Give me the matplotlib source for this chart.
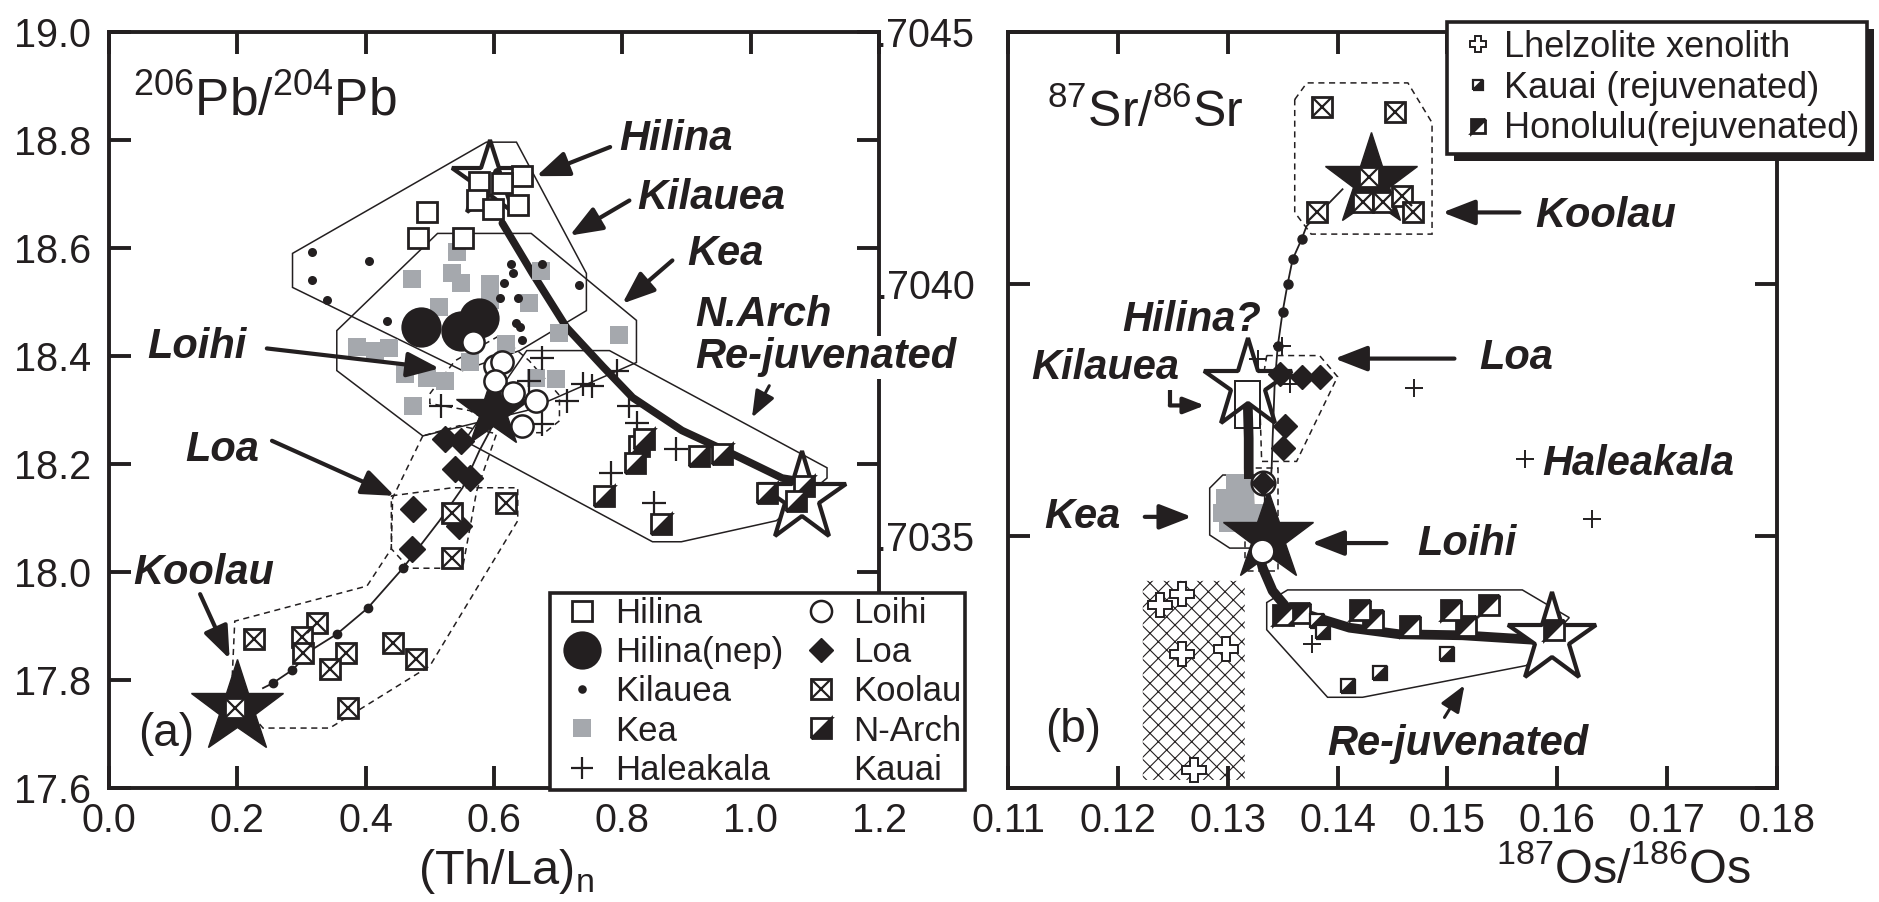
import matplotlib
matplotlib.use("Agg")
import matplotlib.pyplot as plt
import numpy as np
from matplotlib.lines import Line2D
from matplotlib.markers import MarkerStyle
from matplotlib.patches import Polygon, FancyBboxPatch, Rectangle
from matplotlib.transforms import Affine2D

plt.rcParams['font.family'] = ['Liberation Sans', 'DejaVu Sans']
plt.rcParams['mathtext.fontset'] = 'custom'
plt.rcParams['mathtext.rm'] = 'Liberation Sans'
plt.rcParams['hatch.linewidth'] = 0.8

# ---------------- panel (a): (Th/La)n vs 206Pb/204Pb ----------------
hilina_x = [0.643, 0.612, 0.577, 0.573, 0.598, 0.637, 0.495, 0.482, 0.551]
hilina_y = [18.733, 18.720, 18.722, 18.688, 18.673, 18.679, 18.666, 18.618, 18.618]

nep_x = [0.487, 0.549, 0.577]
nep_y = [18.453, 18.447, 18.471]

kil_x = [0.316, 0.405, 0.316, 0.339, 0.434, 0.627, 0.630, 0.616, 0.610, 0.637, 0.635, 0.641, 0.644, 0.675, 0.733, 0.605]
kil_y = [18.592, 18.575, 18.540, 18.503, 18.464, 18.571, 18.553, 18.536, 18.507, 18.508, 18.462, 18.453, 18.429, 18.571, 18.532, 18.740]

kea_x = [0.542, 0.472, 0.535, 0.549, 0.593, 0.593, 0.515, 0.655, 0.674, 0.386, 0.414, 0.437,
         0.461, 0.495, 0.523, 0.473, 0.562, 0.619, 0.697, 0.702, 0.795, 0.666]
kea_y = [18.592, 18.542, 18.553, 18.536, 18.534, 18.503, 18.490, 18.499, 18.558, 18.416, 18.410, 18.414,
         18.367, 18.360, 18.354, 18.308, 18.388, 18.423, 18.358, 18.442, 18.438, 18.360]

hale_x = [0.675, 0.655, 0.518, 0.738, 0.753, 0.714, 0.675, 0.792, 0.811, 0.823, 0.884, 0.783, 0.850]
hale_y = [18.397, 18.354, 18.308, 18.349, 18.345, 18.317, 18.275, 18.373, 18.308, 18.276, 18.228, 18.184, 18.128]

loihi_x = [0.567, 0.601, 0.613, 0.601, 0.629, 0.665, 0.644]
loihi_y = [18.425, 18.382, 18.388, 18.354, 18.332, 18.317, 18.271]

loa_x = [0.523, 0.549, 0.539, 0.562, 0.473, 0.472, 0.546]
loa_y = [18.247, 18.243, 18.191, 18.174, 18.117, 18.043, 18.085]

koolau_x = [0.226, 0.324, 0.300, 0.302, 0.370, 0.344, 0.442, 0.479, 0.372, 0.535, 0.535, 0.619, 0.196]
koolau_y = [17.876, 17.905, 17.879, 17.850, 17.850, 17.820, 17.868, 17.839, 17.748, 18.109, 18.026, 18.128, 17.748]

narch_x = [0.826, 0.834, 0.819, 0.920, 0.956, 1.026, 1.083, 1.071, 0.772, 0.861]
narch_y = [18.234, 18.247, 18.202, 18.215, 18.219, 18.147, 18.160, 18.132, 18.141, 18.089]

# end-member stars
a_black_star_x = [0.199, 0.598]
a_black_star_y = [17.748, 18.299]
a_black_star_ms = [70, 56]
a_open_star_x = [0.593, 1.080]
a_open_star_y = [18.725, 18.137]
a_open_star_ms = [57, 67]

# mixing curves
mixA_x = [0.613, 0.660, 0.713, 0.770, 0.816, 0.893, 0.971, 1.049, 1.075]
mixA_y = [18.646, 18.553, 18.453, 18.380, 18.323, 18.262, 18.219, 18.174, 18.169]
mixB_x = [0.240, 0.255, 0.285, 0.320, 0.355, 0.403, 0.458, 0.515, 0.551, 0.577, 0.598]
mixB_y = [17.785, 17.794, 17.818, 17.859, 17.885, 17.933, 18.007, 18.095, 18.156, 18.224, 18.271]

# field outlines
polyA_hilina = ([0.286, 0.588, 0.635, 0.744, 0.744, 0.640, 0.551, 0.286],
                [18.590, 18.796, 18.796, 18.553, 18.484, 18.410, 18.373, 18.527])
polyA_kea = ([0.512, 0.658, 0.822, 0.822, 0.651, 0.489, 0.355, 0.355],
             [18.627, 18.627, 18.466, 18.388, 18.299, 18.252, 18.373, 18.447])
polyA_narch = ([0.651, 0.780, 1.119, 1.119, 1.040, 0.892, 0.847, 0.554],
               [18.410, 18.410, 18.193, 18.174, 18.095, 18.056, 18.056, 18.243])
polyA_loihi = ([0.500, 0.539, 0.609, 0.655, 0.702, 0.702, 0.679, 0.624, 0.562, 0.500],
               [18.330, 18.391, 18.438, 18.391, 18.327, 18.280, 18.258, 18.258, 18.299, 18.312])
polyA_loa = ([0.489, 0.442, 0.440, 0.468, 0.551, 0.573, 0.604, 0.546],
             [18.252, 18.137, 18.043, 18.007, 18.007, 18.150, 18.256, 18.271])
polyA_koolau = ([0.440, 0.535, 0.637, 0.637, 0.500, 0.344, 0.240, 0.191, 0.196, 0.402, 0.440],
                [18.141, 18.156, 18.156, 18.095, 17.826, 17.711, 17.711, 17.779, 17.909, 17.974, 18.043])

# ---------------- panel (b): 187Os/186Os vs 87Sr/86Sr ----------------
b_koolau_x = [0.13855, 0.14527, 0.14282, 0.14227, 0.14409, 0.14582, 0.14691, 0.13809]
b_koolau_y = [0.704352, 0.704342, 0.704213, 0.704162, 0.704162, 0.704174, 0.704142, 0.704142]

b_kea_x = [0.13064, 0.13109, 0.12973, 0.13036, 0.12945, 0.13155, 0.13091, 0.13200, 0.13000, 0.13245, 0.13155]
b_kea_y = [0.703605, 0.703585, 0.703575, 0.703555, 0.703546, 0.703565, 0.703536, 0.703526, 0.703526, 0.703546, 0.703595]

b_loa_x = [0.13473, 0.13673, 0.13836, 0.13518, 0.13500, 0.13318]
b_loa_y = [0.703822, 0.703816, 0.703816, 0.703718, 0.703674, 0.703605]

b_loihi_x = [0.13318, 0.13309]
b_loihi_y = [0.703605, 0.703471]

b_hale_x = [0.13491, 0.13273, 0.13564, 0.14700, 0.13764, 0.15709, 0.16318]
b_hale_y = [0.703876, 0.703852, 0.703802, 0.703793, 0.703285, 0.703652, 0.703534]

honolulu_x = [0.13500, 0.13655, 0.14200, 0.14318, 0.14655, 0.15036, 0.15173, 0.15382, 0.15973]
honolulu_y = [0.703344, 0.703348, 0.703354, 0.703334, 0.703322, 0.703354, 0.703322, 0.703364, 0.703314]

kauai_x = [0.13864, 0.15000, 0.14382, 0.14091, 0.13809]
kauai_y = [0.703310, 0.703265, 0.703229, 0.703202, 0.703332]

xeno_x = [0.12382, 0.12582, 0.12582, 0.12982, 0.12691]
xeno_y = [0.703364, 0.703384, 0.703265, 0.703275, 0.703036]
xeno_field_x = [0.12227, 0.13155]
xeno_field_y = [0.703016, 0.703411]

kil_box_x = [0.13064, 0.13291]
kil_box_y = [0.703714, 0.703808]

b_black_star_x = [0.14300, 0.13364]
b_black_star_y = [0.704204, 0.703498]
b_black_star_ms = [70, 68]
b_open_star_x = [0.13182, 0.15955]
b_open_star_y = [0.703799, 0.703295]
b_open_star_ms = [67, 67]

mixC_x = [0.14045, 0.13718, 0.13673, 0.13591, 0.13545, 0.13500, 0.13455, 0.13427, 0.13409, 0.13400, 0.13382]
mixC_y = [0.704188, 0.704115, 0.704089, 0.704049, 0.704000, 0.703945, 0.703876, 0.703799, 0.703694, 0.703635, 0.703585]
mixD_x = [0.13182, 0.13191, 0.13191, 0.13200, 0.13318, 0.13409, 0.13536, 0.13809, 0.14109, 0.14564, 0.15136, 0.15864]
mixD_y = [0.703767, 0.703694, 0.703635, 0.703536, 0.703437, 0.703391, 0.703358, 0.703338, 0.703318, 0.703305, 0.703303, 0.703293]

polyB_koolau = ([0.1361, 0.1372, 0.1464, 0.1486, 0.1486, 0.1376, 0.1361],
                [0.704366, 0.704399, 0.704399, 0.704320, 0.704099, 0.704099, 0.704142])
polyB_loa = ([0.13355, 0.13836, 0.14000, 0.13627, 0.13309, 0.13291],
             [0.703858, 0.703858, 0.703816, 0.703648, 0.703648, 0.703773])
polyB_loihi = ([0.13155, 0.13455, 0.13455, 0.13155],
               [0.703635, 0.703635, 0.703431, 0.703431])
polyB_kea = ([0.12955, 0.13245, 0.13336, 0.13336, 0.13245, 0.13018, 0.12836, 0.12836],
             [0.703621, 0.703621, 0.703595, 0.703496, 0.703476, 0.703476, 0.703502, 0.703595])
polyB_rejuv = ([0.13545, 0.15682, 0.16109, 0.15718, 0.14227, 0.13909, 0.13355, 0.13355],
               [0.703393, 0.703393, 0.703338, 0.703243, 0.703180, 0.703180, 0.703314, 0.703368])

# ---------------- styles ----------------
INK = '#231f20'
GRAY = '#a5a8ad'
LAB = dict(fontsize=30, fontweight='bold', fontstyle='italic', color=INK)


def half_square(black_upper):
    fs = 'left' if black_upper else 'right'
    return MarkerStyle('D', fillstyle=fs, transform=Affine2D().rotate_deg(-45))


def arrow(ax, tail, head, lw=3.0, scale=22):
    ax.annotate('', xy=head, xytext=tail,
                arrowprops=dict(arrowstyle='-|>,head_length=0.9,head_width=0.35',
                                lw=lw, color=INK, shrinkA=0, shrinkB=0, mutation_scale=scale))


def outline(ax, xy, dashed=False):
    ax.add_patch(Polygon(np.column_stack(xy), closed=True, fill=False, ec=INK, lw=1.1,
                         ls=(0, (4, 3)) if dashed else '-', zorder=1.5))


def style_axes(ax):
    for s in ax.spines.values():
        s.set_linewidth(2.8)
        s.set_color(INK)
    ax.tick_params(direction='in', top=True, right=True, length=16, width=2.8,
                   labelsize=28.5, color=INK, labelcolor=INK)


fig = plt.figure(figsize=(18.79, 9.02), dpi=100)
ax1 = fig.add_axes([109 / 1879, 1 - 788 / 902, 770 / 1879, 756 / 902])
ax2 = fig.add_axes([1008 / 1879, 1 - 788 / 902, 769 / 1879, 756 / 902])

# ---------------- panel (a) drawing ----------------
for p in (polyA_hilina, polyA_kea, polyA_narch):
    outline(ax1, p)
for p in (polyA_loihi, polyA_loa, polyA_koolau):
    outline(ax1, p, dashed=True)

ax1.plot(mixA_x, mixA_y, color=INK, lw=5.5, solid_capstyle='round', zorder=2)
ax1.plot(mixB_x, mixB_y, color=INK, lw=1.3, marker='o', ms=6, markevery=[1, 2, 4, 5, 6], zorder=2)

for x, y, ms in zip(a_open_star_x, a_open_star_y, a_open_star_ms):
    ax1.plot([x], [y], ls='none', marker='*', ms=ms, mfc='white', mec=INK, mew=3, zorder=2.5)
for x, y, ms in zip(a_black_star_x, a_black_star_y, a_black_star_ms):
    ax1.plot([x], [y], ls='none', marker='*', ms=ms, mfc=INK, mec=INK, zorder=2.6)

h_kea, = ax1.plot(kea_x, kea_y, ls='none', marker='s', ms=13, mfc=GRAY, mew=0, zorder=3)
h_kil, = ax1.plot(kil_x, kil_y, ls='none', marker='o', ms=6.5, mfc=INK, mew=0, zorder=3.1)
h_nep, = ax1.plot(nep_x, nep_y, ls='none', marker='o', ms=29, mfc=INK, mew=0, zorder=3.2)
h_hil, = ax1.plot(hilina_x, hilina_y, ls='none', marker='s', ms=15, mfc='white', mec=INK, mew=2, zorder=3.3)
h_hale, = ax1.plot(hale_x, hale_y, ls='none', marker='+', ms=17, mec=INK, mew=1.6, zorder=3.4)
h_loa, = ax1.plot(loa_x, loa_y, ls='none', marker='D', ms=13, mfc=INK, mec=INK, mew=1, zorder=3.5)
h_loihi, = ax1.plot(loihi_x, loihi_y, ls='none', marker='o', ms=16, mfc='white', mec=INK, mew=1.8, zorder=3.6)
h_kool_s, = ax1.plot(koolau_x, koolau_y, ls='none', marker='s', ms=15, mfc='white', mec=INK, mew=2, zorder=3.7)
h_kool_x, = ax1.plot(koolau_x, koolau_y, ls='none', marker='x', ms=15, mec=INK, mew=1.6, zorder=3.8)
h_narch, = ax1.plot(narch_x, narch_y, ls='none', marker=half_square(False), ms=15,
                    mfc=INK, mfcalt='white', mec=INK, mew=2, zorder=3.9)

# labels and arrows (a)
ax1.text(0.884, 18.781, 'Hilina', ha='center', va='baseline', **LAB)
arrow(ax1, (0.781, 18.787), (0.666, 18.733))
ax1.text(0.938, 18.673, 'Kilauea', ha='center', va='baseline', **LAB)
arrow(ax1, (0.811, 18.688), (0.718, 18.623))
ax1.text(0.960, 18.568, 'Kea', ha='center', va='baseline', **LAB)
arrow(ax1, (0.878, 18.577), (0.800, 18.497))
ax1.text(0.914, 18.456, 'N.Arch', ha='left', va='baseline', zorder=6, **LAB)
ax1.text(0.914, 18.377, 'Re-juvenated', ha='left', va='baseline', clip_on=False, zorder=6,
         bbox=dict(fc='white', ec='none', pad=1), **LAB)
arrow(ax1, (1.029, 18.345), (1.002, 18.286), lw=2.2, scale=18)
ax1.text(0.137, 18.397, 'Loihi', ha='center', va='baseline', **LAB)
arrow(ax1, (0.246, 18.414), (0.515, 18.377))
ax1.text(0.176, 18.206, 'Loa', ha='center', va='baseline', **LAB)
arrow(ax1, (0.254, 18.243), (0.445, 18.141))
ax1.text(0.148, 17.978, 'Koolau', ha='center', va='baseline', **LAB)
arrow(ax1, (0.142, 17.959), (0.188, 17.839))
ax1.text(0.089, 17.677, '(a)', ha='center', va='baseline', fontsize=33, color=INK)
ax1.text(0.037, 18.846, r'$^{206}$Pb/$^{204}$Pb', ha='left', va='baseline', fontsize=37, color=INK)

ax1.set_xlim(0.0, 1.2)
ax1.set_ylim(17.6, 19.0)
ax1.set_xticks(np.arange(0.0, 1.21, 0.2))
ax1.set_xticklabels(['%.1f' % v for v in np.arange(0.0, 1.21, 0.2)])
ax1.set_yticks(np.arange(17.6, 19.01, 0.2))
ax1.set_yticklabels(['%.1f' % v for v in np.arange(17.6, 19.01, 0.2)])
style_axes(ax1)
ax1.tick_params(axis='x', pad=10)
ax1.tick_params(axis='y', pad=13)

blank = Line2D([], [], ls='none', marker='none')
leg1 = ax1.legend([h_hil, h_nep, h_kil, h_kea, h_hale, h_loihi, h_loa, (h_kool_s, h_kool_x), h_narch, blank],
                  ['Hilina', 'Hilina(nep)', 'Kilauea', 'Kea', 'Haleakala', 'Loihi', 'Loa', 'Koolau', 'N-Arch', 'Kauai'],
                  ncol=2, loc='lower left', bbox_to_anchor=(0.573, -0.003), borderaxespad=0,
                  fontsize=25, frameon=True, fancybox=False, framealpha=1, edgecolor=INK,
                  handlelength=1.65, handletextpad=0.12, columnspacing=0.25, labelspacing=0.18,
                  borderpad=0.1, markerscale=0.95)
leg1.get_frame().set_linewidth(2.6)
leg1.set_zorder(10)
for t in leg1.get_texts():
    t.set_color(INK)

# ---------------- panel (b) drawing ----------------
xeno = FancyBboxPatch((xeno_field_x[0], xeno_field_y[0]), xeno_field_x[1] - xeno_field_x[0],
                      xeno_field_y[1] - xeno_field_y[0],
                      boxstyle='round,pad=0,rounding_size=0.0004', mutation_aspect=0.00002,
                      fc='white', ec=INK, lw=0, hatch='xx', zorder=1)
ax2.add_patch(xeno)
ax2.add_patch(Rectangle((kil_box_x[0], kil_box_y[0]), kil_box_x[1] - kil_box_x[0],
                        kil_box_y[1] - kil_box_y[0], fill=False, ec=INK, lw=1.4, zorder=2.7))

outline(ax2, polyB_kea)
outline(ax2, polyB_rejuv)
for p in (polyB_koolau, polyB_loa, polyB_loihi):
    outline(ax2, p, dashed=True)

ax2.plot(mixC_x, mixC_y, color=INK, lw=1.3, marker='o', ms=6.5, markevery=[2, 3, 4, 5, 6], zorder=2)
ax2.plot(mixD_x, mixD_y, color=INK, lw=7, solid_capstyle='round', zorder=2)

ax2.plot(b_kea_x, b_kea_y, ls='none', marker='s', ms=13, mfc=GRAY, mew=0, zorder=2.2)
for x, y, ms in zip(b_open_star_x, b_open_star_y, b_open_star_ms):
    ax2.plot([x], [y], ls='none', marker='*', ms=ms, mfc='white', mec=INK, mew=3, zorder=2.5)
for x, y, ms in zip(b_black_star_x, b_black_star_y, b_black_star_ms):
    ax2.plot([x], [y], ls='none', marker='*', ms=ms, mfc=INK, mec=INK, zorder=2.6)

ax2.plot(b_hale_x, b_hale_y, ls='none', marker='+', ms=13, mec=INK, mew=1.4, zorder=3.4)
ax2.plot(b_loihi_x, b_loihi_y, ls='none', marker='o', ms=17, mfc='white', mec=INK, mew=1.8, zorder=3.5)
ax2.plot(b_loa_x, b_loa_y, ls='none', marker='D', ms=12, mfc=INK, mec=INK, mew=1, zorder=3.6)
ax2.plot(b_koolau_x, b_koolau_y, ls='none', marker='s', ms=15, mfc='white', mec=INK, mew=2, zorder=3.7)
ax2.plot(b_koolau_x, b_koolau_y, ls='none', marker='x', ms=15, mec=INK, mew=1.6, zorder=3.8)
h_hon, = ax2.plot(honolulu_x, honolulu_y, ls='none', marker=half_square(True), ms=15,
                  mfc=INK, mfcalt='white', mec=INK, mew=2, zorder=3.9)
h_kau, = ax2.plot(kauai_x, kauai_y, ls='none', marker=half_square(False), ms=10,
                  mfc=INK, mfcalt='white', mec=INK, mew=1.6, zorder=3.9)
h_xen, = ax2.plot(xeno_x, xeno_y, ls='none', marker='P', ms=17, mfc='white', mec=INK, mew=1.4, zorder=3.9)

# labels and arrows (b)
ax2.text(0.16445, 0.704113, 'Koolau', ha='center', va='baseline', **LAB)
arrow(ax2, (0.15655, 0.704142), (0.14955, 0.704142))
ax2.text(0.12673, 0.703907, 'Hilina?', ha='center', va='baseline', **LAB)
ax2.text(0.11882, 0.703812, 'Kilauea', ha='center', va='baseline', **LAB)
ax2.plot([0.12473, 0.12473], [0.703789, 0.703759], color=INK, lw=3, solid_capstyle='butt')
arrow(ax2, (0.12473, 0.703759), (0.12791, 0.703759), scale=14)
ax2.text(0.15291, 0.703832, 'Loa', ha='left', va='baseline', **LAB)
arrow(ax2, (0.15064, 0.703852), (0.13973, 0.703852))
ax2.text(0.15864, 0.703621, 'Haleakala', ha='left', va='baseline', **LAB)
ax2.text(0.11673, 0.703516, 'Kea', ha='center', va='baseline', **LAB)
arrow(ax2, (0.12245, 0.703538), (0.12673, 0.703538))
ax2.text(0.15182, 0.703463, 'Loihi', ha='center', va='baseline', **LAB)
arrow(ax2, (0.14445, 0.703486), (0.13764, 0.703486))
ax2.text(0.15091, 0.703065, 'Re-juvenated', ha='center', va='baseline', **LAB)
arrow(ax2, (0.14973, 0.703140), (0.15155, 0.703204), lw=2.2, scale=18)
ax2.text(0.11591, 0.703091, '(b)', ha='center', va='baseline', fontsize=33, color=INK)
ax2.text(0.11355, 0.704312, r'$^{87}$Sr/$^{86}$Sr', ha='left', va='baseline', fontsize=36, color=INK)

ax2.set_xlim(0.11, 0.18)
ax2.set_ylim(0.7030, 0.7045)
ax2.set_xticks(np.arange(0.11, 0.1801, 0.01))
ax2.set_xticklabels(['%.2f' % v for v in np.arange(0.11, 0.1801, 0.01)])
ax2.set_yticks([0.7030, 0.7035, 0.7040, 0.7045])
ax2.set_yticklabels(['', '.7035', '.7040', '.7045'])
style_axes(ax2)
ax2.tick_params(axis='x', pad=10)
ax2.tick_params(axis='y', pad=24)

leg2 = ax2.legend([h_xen, h_kau, h_hon],
                  ['Lhelzolite xenolith', 'Kauai (rejuvenated)', 'Honolulu(rejuvenated)'],
                  loc='upper left', bbox_to_anchor=(1447 / 1879, 1 - 22 / 902), bbox_transform=fig.transFigure,
                  borderaxespad=0, fontsize=26, frameon=True, fancybox=False, framealpha=1, edgecolor=INK,
                  handlelength=1.3, handletextpad=0.05, labelspacing=0.16, borderpad=0.22, markerscale=0.7)
leg2.get_frame().set_linewidth(2.6)
leg2.set_zorder(10)
for t in leg2.get_texts():
    t.set_color(INK)

fig.text(506 / 1879, 1 - 884 / 902, r'(Th/La)$_\mathregular{n}$', ha='center', va='baseline', fontsize=35, color=INK)
fig.text(1624 / 1879, 1 - 884 / 902, r'$^{187}$Os/$^{186}$Os', ha='center', va='baseline', fontsize=35, color=INK)

# black drop shadow behind the right legend
fig.canvas.draw()
bb = leg2.get_window_extent().transformed(fig.transFigure.inverted())
off_x, off_y = 7 / 1879, 7 / 902
ax2.add_patch(Rectangle((bb.x0 + off_x, bb.y0 - off_y), bb.width, bb.height, transform=fig.transFigure,
                        fc=INK, ec='none', clip_on=False, zorder=9))

fig.savefig('out.png', dpi=100)
